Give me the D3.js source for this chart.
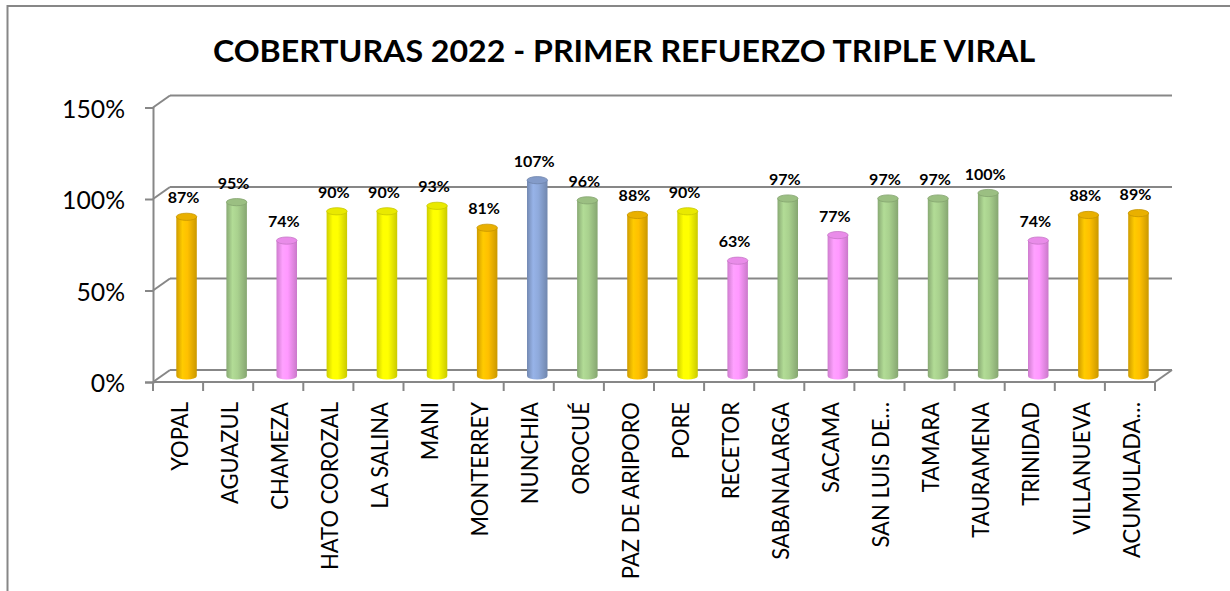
<!DOCTYPE html>
<html>
<head>
<meta charset="utf-8">
<script src="https://cdn.jsdelivr.net/npm/d3@7"></script>
<style>
  html, body { margin: 0; padding: 0; background: #fff; }
  svg { display: block; font-family: Lato, "Liberation Sans", sans-serif; }
</style>
</head>
<body>
<svg id="chart" width="1230" height="591"></svg>
<script>
const title = "COBERTURAS 2022 - PRIMER REFUERZO TRIPLE VIRAL";
const categories = ["YOPAL", "AGUAZUL", "CHAMEZA", "HATO COROZAL", "LA SALINA", "MANI", "MONTERREY",
  "NUNCHIA", "OROCUÉ", "PAZ DE ARIPORO", "PORE", "RECETOR", "SABANALARGA", "SACAMA",
  "SAN LUIS DE…", "TAMARA", "TAURAMENA", "TRINIDAD", "VILLANUEVA", "ACUMULADA…"];
const values = [87, 95, 74, 90, 90, 93, 81, 107, 96, 88, 90, 63, 97, 77, 97, 97, 100, 74, 88, 89];
const yTickValues = [0, 50, 100, 150];
const yTickLabels = ["0%", "50%", "100%", "150%"];
const colorThresholds = [80, 90, 95, 101];

const svg = d3.select("#chart");

// outer border (open at right and bottom, beyond window)
svg.append("rect").attr("x", 7.5).attr("y", 6).attr("width", 1240).attr("height", 600)
  .attr("fill", "none").attr("stroke", "#878787").attr("stroke-width", 2);

// geometry
const x0 = 153, x1 = 1155, yBottom = 382, yTop = 107.5;
const dx = 17, dy = -12;
const x = d3.scaleBand().domain(categories).range([x0, x1]);
const y = d3.scaleLinear().domain([0, 150]).range([yBottom, yTop]);
const color = d3.scaleThreshold().domain(colorThresholds)
  .range(["#FF99FF", "#FFC000", "#FFFF00", "#A9D18E", "#8FAADC"]);

const gridColor = "#878787";
const grid = svg.append("g").attr("stroke", gridColor).attr("stroke-width", 2).attr("fill", "none");

yTickValues.forEach(v => {
  grid.append("line").attr("x1", x0 + dx).attr("x2", x1 + dx).attr("y1", y(v) + dy).attr("y2", y(v) + dy);
  grid.append("line").attr("x1", x0).attr("x2", x0 + dx).attr("y1", y(v)).attr("y2", y(v) + dy);
});
grid.append("line").attr("x1", x0).attr("x2", x1).attr("y1", yBottom).attr("y2", yBottom);
grid.append("line").attr("x1", x1).attr("x2", x1 + dx).attr("y1", yBottom).attr("y2", yBottom + dy);

// helper: size by cap height, then stretch/squeeze horizontally to match width
const CAP = 0.7165;
function fitScale(sel, refNode, capPx, widthPx) {
  sel.attr("font-size", capPx / CAP);
  const len = refNode.getComputedTextLength();
  return widthPx / len;
}

// y axis
const yAxis = d3.axisLeft(y).tickValues(yTickValues).tickSize(8).tickFormat((d, i) => yTickLabels[i]);
const yg = svg.append("g").attr("transform", `translate(${x0},0)`).call(yAxis);
yg.select(".domain").attr("stroke", gridColor).attr("stroke-width", 2);
yg.selectAll(".tick line").attr("stroke", gridColor).attr("stroke-width", 2);
{
  const tt = yg.selectAll(".tick text").attr("fill", "#000").attr("font-family", "Lato, sans-serif")
    .attr("x", null).attr("dy", null);
  const sx = fitScale(tt, tt.filter(d => d === 150).node(), 18, 63);
  tt.attr("transform", `translate(-28,9.5) scale(${sx},1)`);
}

// x axis ticks at category boundaries
const boundaries = d3.range(categories.length + 1).map(i => x0 + i * x.step());
svg.append("g").attr("stroke", gridColor).attr("stroke-width", 2)
  .selectAll("line").data(boundaries).join("line")
  .attr("x1", d => d).attr("x2", d => d).attr("y1", yBottom).attr("y2", yBottom + 9);

// category labels
const catText = svg.append("g").selectAll("text").data(categories).join("text")
  .attr("text-anchor", "end").attr("fill", "#000").text(d => d);
{
  const sx = fitScale(catText, catText.filter(d => d === "HATO COROZAL").node(), 16.3, 168);
  catText.attr("transform", d => `translate(${x(d) + x.bandwidth() / 2 + 1.5 + 8.2},402) rotate(-90) scale(${sx},1)`);
}

// gradients
const defs = svg.append("defs");
const palette = color.range();
palette.forEach((c, i) => {
  const base = d3.color(c);
  const g = defs.append("linearGradient").attr("id", "cyl" + i).attr("x1", "0%").attr("x2", "100%");
  g.append("stop").attr("offset", "0%").attr("stop-color", base.darker(0.6));
  g.append("stop").attr("offset", "30%").attr("stop-color", base.brighter(0.15));
  g.append("stop").attr("offset", "55%").attr("stop-color", base);
  g.append("stop").attr("offset", "100%").attr("stop-color", base.darker(0.65));
});

// cylinders at mid-depth
const bw = 20.5, ry = 3.6;
const ymid = v => y(v) + dy / 2;
const data = categories.map((c, i) => ({ c, v: values[i] }));
svg.append("g").selectAll("g").data(data).join("g").each(function (d) {
  const g = d3.select(this);
  const cx = x(d.c) + x.bandwidth() / 2 + dx / 2;
  const yb = ymid(0), yt = ymid(d.v);
  const idx = palette.indexOf(color(d.v));
  const base = d3.color(color(d.v));
  g.append("path")
    .attr("d", `M${cx - bw / 2},${yt} L${cx - bw / 2},${yb} A${bw / 2},${ry} 0 0 0 ${cx + bw / 2},${yb} L${cx + bw / 2},${yt} Z`)
    .attr("fill", `url(#cyl${idx})`);
  g.append("ellipse").attr("cx", cx).attr("cy", yt).attr("rx", bw / 2).attr("ry", ry)
    .attr("fill", base.darker(0.25)).attr("stroke", base.darker(0.7)).attr("stroke-width", 0.8);
});

// data labels
const lbl = svg.append("g").selectAll("text").data(data).join("text")
  .attr("text-anchor", "middle").attr("font-weight", "bold")
  .attr("fill", "#000").text(d => d.v + "%");
{
  const sx = fitScale(lbl, lbl.filter(d => d.c === "YOPAL").node(), 11, 31.7);
  lbl.attr("transform", d => `translate(${x(d.c) + x.bandwidth() / 2 + dx / 2 - 3},${ymid(d.v) - 13.5}) scale(${sx},1)`);
}

// title
const t = svg.append("text").attr("text-anchor", "middle")
  .attr("font-weight", "bold").attr("fill", "#000").text(title);
{
  const sx = fitScale(t, t.node(), 22, 822);
  t.attr("transform", `translate(624,61.7) scale(${sx},1)`);
}
</script>
</body>
</html>
